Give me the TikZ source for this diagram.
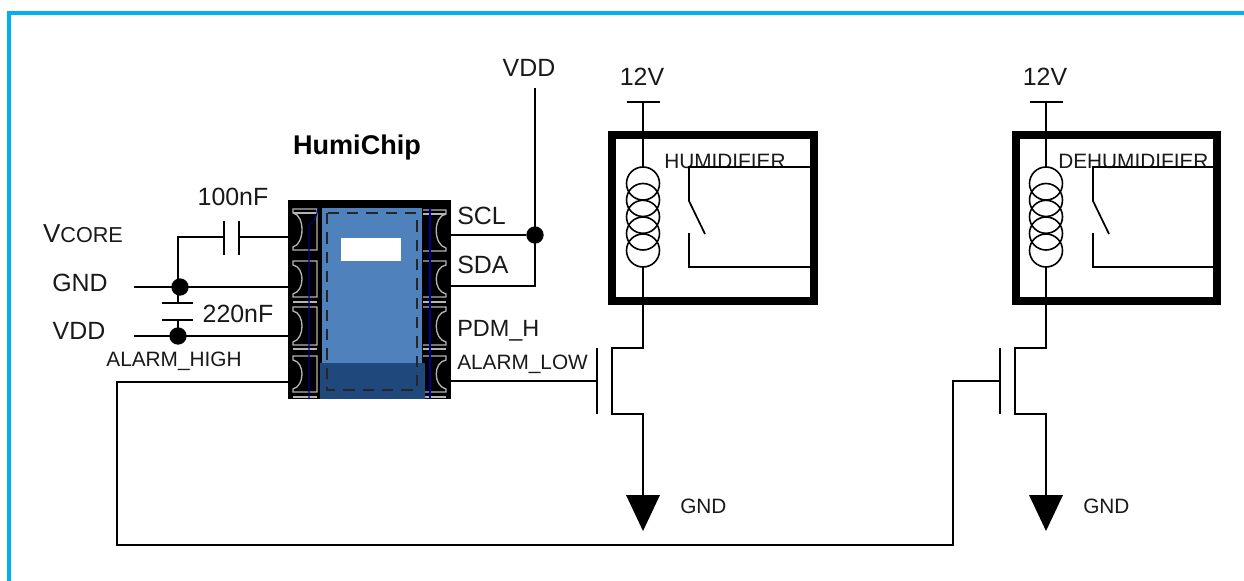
\documentclass[tikz,border=0pt]{standalone}
\usepackage{fontspec}
\setmainfont{Liberation Sans}
\newcommand{\fa}{\fontsize{18.7pt}{22pt}\selectfont}
\newcommand{\fb}{\fontsize{15.6pt}{18pt}\selectfont}
\newcommand{\fc}{\fontsize{17.6pt}{20pt}\selectfont}
\definecolor{frameblue}{HTML}{00B0F0}
\definecolor{chipblue}{HTML}{4F81BD}
\definecolor{chipdark}{HTML}{1F497D}
\definecolor{padgrey}{HTML}{B4B4B4}
\definecolor{tracedark}{HTML}{000090}
\tikzset{
  x=0.75pt,y=-0.75pt,
  wire/.style={line width=1.3pt,black},
  junction/.style={circle,fill=black,inner sep=0pt,minimum size=13pt},
  label big/.style={inner sep=0pt,font=\fa,text=black!90},
  label small/.style={inner sep=0pt,font=\fb,text=black!90},
  pad/.style={draw=padgrey,line width=1pt},
  coilturn/.style={draw=black,line width=1.2pt},
}
\newcommand{\leftpad}[3]{% top, bottom, extra line
  \draw[pad] (317,#1) -- (293,#1) -- (293,#1+4)
    .. controls (305,#1+6) and (305,#2-6) .. (293,#2-3)
    -- (293,#2) -- (317,#2) -- cycle;
  \draw[pad] (293,#3) -- (317,#3);
}
\newcommand{\rightpad}[3]{%
  \draw[pad] (423,#1) -- (446,#1) -- (446,#1+4)
    .. controls (433,#1+6) and (433,#2-6) .. (446,#2-3)
    -- (446,#2) -- (423,#2);
  \draw[pad] (423,#3) -- (446,#3);
}
\newcommand{\relay}[6]{% name-prefix, box left, box right, coil x, text, text x
  \coordinate (#1top) at (#4,102);
  \coordinate (#1coilt) at (#4,167);
  \coordinate (#1coilb) at (#4,267);
  \coordinate (#1boxb) at (#4,304);
  \node[draw=black,line width=6pt,minimum width={(#3-#2-8)*0.75pt},minimum height=124.5pt,inner sep=0pt,outer sep=0pt,fill=white,anchor=north west] (#1box) at (#2+4,135) {};
  \draw[wire] (#4-16.5,102) -- (#4+16.5,102);
  \draw[wire] (#1top) -- (#1coilt);
  \foreach \cy in {183.5,200,216.8,233.5,250.5}
    \draw[coilturn] (#4,\cy) circle[radius=16.5];
  \draw[wire] (#1coilb) -- (#1boxb);
  \node[label small,anchor=west] (#1label) at (#6,161) {#5};
  \coordinate (#1c) at (#3-8,167);
  \coordinate (#1d) at (#3-8,267);
  \coordinate (#1s) at (#2+81,167);
  \coordinate (#1t) at (#2+81,267);
  \draw[wire] (#1c) -- (#1s) -- (#2+81,201) -- (#2+97,234);
  \draw[wire] (#2+81,233) -- (#1t) -- (#1d);
  % FET
  \coordinate (#1fd) at (#4,348);
  \coordinate (#1fs) at (#4,414);
  \draw[wire] (#1boxb) -- (#1fd) -- (#4-31,348) -- (#4-31,414) -- (#1fs) -- (#4,500);
  \draw[wire] (#4-46,348) -- (#4-46,414);
  \coordinate (#1gate) at (#4-46,381);
  \fill[black] (#4-17,495) -- (#4+17,495) -- (#4,531) -- cycle;
  \node[label small,anchor=west] (#1gndl) at (#4+37,506) {GND};
  \node[label big,anchor=center] (#1v) at (#4-1,77) {12V};
}
\begin{document}
\begin{tikzpicture}
\useasboundingbox (0,0) rectangle (1244,581);
\fill[white] (0,0) rectangle (1244,581);
% outer frame
\fill[frameblue] (7,11) rectangle (1244,15);
\fill[frameblue] (7,11) rectangle (11,581);

% relays
\relay{a}{608}{818}{643}{HUMIDIFIER}{664}
\relay{b}{1012}{1221}{1046}{DEHUMIDIFIER}{1058}

% chip
\node[fill=black,draw=none,inner sep=0pt,outer sep=0pt,minimum width=122.25pt,minimum height=149.25pt,anchor=north west] (chip) at (288,200) {};
\leftpad{209}{250}{213}\leftpad{261}{297}{302}\leftpad{307}{345}{349}\leftpad{356}{392}{397}
\rightpad{210}{251}{214}\rightpad{261}{297}{302}\rightpad{307}{345}{349}\rightpad{356}{392}{397}
\draw[tracedark,line width=0.8pt] (309,399) -- (309,226) .. controls (313,221) and (316,220) .. (318,208);
\draw[tracedark,line width=0.8pt] (430,208) -- (430,399);
\fill[chipblue] (322,208) rectangle (422,399);
\fill[chipdark] (320,363) rectangle (425,399);
\node[fill=white,inner sep=0pt,outer sep=0pt,minimum width=45pt,minimum height=17.25pt,anchor=north west] (win) at (341,238) {};
\draw[black!85,line width=1.3pt,dash pattern=on 8.5pt off 6pt] (327,213) rectangle (417,390);

% chip pin coordinates
\coordinate (p1) at (288,237);
\coordinate (p2) at (288,287);
\coordinate (p3) at (288,336);
\coordinate (p4) at (288,382);
\coordinate (q1) at (451,235);
\coordinate (q2) at (451,286);
\coordinate (q4) at (451,381);

% left wires
\coordinate (gndl) at (134,287);
\coordinate (vddl) at (134,336);
\coordinate (s1) at (178,287);
\coordinate (s2) at (178,336);
\draw[wire] (gndl) -- (p2);
\draw[wire] (vddl) -- (p3);
\node[junction] (j1) at (180,287) {};
\node[junction] (j2) at (178,336) {};
\coordinate (cA1) at (224,237);
\coordinate (cA2) at (239,237);
\draw[wire] (s1) -- (178,237) -- (cA1);
\draw[wire] (cA2) -- (p1);
\draw[wire] (224,221) -- (224,255);
\draw[wire] (239,221) -- (239,255);
\draw[wire] (s1) -- (178,303);
\draw[wire] (s2) -- (178,320);
\draw[wire] (162,303) -- (193,303);
\draw[wire] (162,320) -- (193,320);

% right wires
\coordinate (vddtop) at (535,88);
\node[junction] (j3) at (535,235) {};
\draw[wire] (q1) -- (j3);
\draw[wire] (q2) -- (535,286) -- (vddtop);
\draw[wire] (q4) -- (agate);

% return wire
\draw[wire] (p4) -- (117,382) -- (117,545) -- (953,545) -- (953,381) -- (bgate);

% labels
\node[inner sep=0pt,font=\bfseries\fontsize{20.3pt}{24pt}\selectfont] (title) at (357,148) {HumiChip};
\node[label big] (l100) at (233,197) {100nF};
\node[label big] (l220) at (238,314) {220nF};
\node[label big] (lgnd) at (80,283) {GND};
\node[label big] (lvdd) at (79,331) {VDD};
\node[inner sep=0pt,text=black!90] (lvc) at (83,234) {\fontsize{19.5pt}{22pt}\selectfont V\fontsize{16.2pt}{18pt}\selectfont CORE};
\node[label small] (lah) at (174,361) {ALARM\_HIGH};
\node[label big,anchor=west] (lscl) at (457,216) {SCL};
\node[label big,anchor=west] (lsda) at (457,265) {SDA};
\node[inner sep=0pt,anchor=west,font=\fc,text=black!90] (lpdm) at (457,331) {PDM\_H};
\node[label small,anchor=west] (lal) at (457,364) {ALARM\_LOW};
\node[label big] (lvddr) at (529,68) {VDD};
\end{tikzpicture}
\end{document}
